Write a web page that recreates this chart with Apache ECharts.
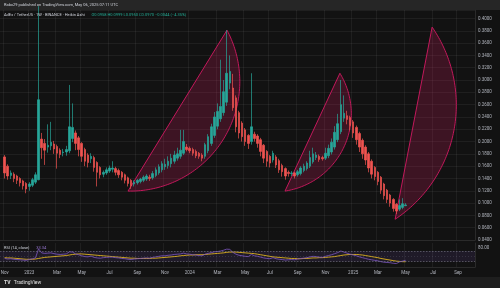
<!DOCTYPE html>
<html><head><meta charset="utf-8">
<script src="https://cdn.jsdelivr.net/npm/echarts/dist/echarts.min.js"></script>
<style>html,body{margin:0;padding:0;background:#121212;}#c{width:500px;height:288px;}</style>
</head><body><div id="c"></div>
<script>
// ---- data (weekly Heikin Ashi candles, index 1 = week of 2022-11-07) ----
const firstWeekUTC = Date.UTC(2022, 9, 31);
const weekCount = 154;
const monthNames = ['Jan','Feb','Mar','Apr','May','Jun','Jul','Aug','Sep','Oct','Nov','Dec'];

const haOpen = [.175,.160,.145,.147,.144,.140,.136,.132,.127,.129,
 .134,.138,.204,.197,.191,.193,.196,.192,.186,.182,
 .183,.185,.205,.214,.206,.197,.187,.178,.172,.174,
 .166,.158,.147,.149,.152,.155,.156,.153,.150,.146,
 .141,.137,.131,.133,.135,.137,.139,.142,.141,.145,
 .149,.154,.159,.161,.164,.168,.173,.176,.181,.191,
 .189,.187,.184,.181,.178,.176,.185,.197,.210,.225,
 .237,.247,.264,.295,.287,.271,.247,.230,.219,.210,
 .200,.212,.209,.203,.194,.184,.176,.170,.175,.169,
 .161,.156,.150,.148,.149,.146,.148,.153,.156,.160,
 .167,.174,.176,.174,.173,.177,.183,.191,.203,.216,
 .238,.242,.239,.232,.223,.213,.202,.191,.180,.168,
 .158,.150,.142,.131,.121,.113,.106,.098,.090,.093,
 .0958];
const haClose = [.149,.144,.149,.140,.137,.133,.128,.123,.131,.138,
 .146,.268,.190,.186,.194,.199,.188,.181,.179,.183,
 .187,.224,.223,.197,.187,.176,.168,.166,.176,.158,
 .150,.146,.150,.154,.157,.157,.150,.146,.142,.137,
 .132,.128,.134,.137,.139,.142,.144,.140,.148,.154,
 .159,.164,.163,.168,.173,.178,.180,.186,.200,.187,
 .185,.181,.177,.176,.173,.195,.208,.224,.240,.249,
 .257,.281,.311,.314,.255,.224,.214,.208,.200,.197,
 .224,.205,.197,.184,.173,.168,.165,.181,.162,.154,
 .151,.144,.148,.149,.144,.151,.157,.160,.165,.174,
 .180,.178,.171,.172,.181,.189,.199,.215,.229,.260,
 .246,.236,.226,.214,.203,.191,.180,.170,.157,.147,
 .143,.135,.121,.112,.106,.100,.091,.087,.096,.099,
 .0970];
const haLow = [.140,.138,.139,.134,.131,.127,.122,.116,.120,.126,
 .131,.137,.172,.162,.182,.186,.180,.156,.173,.176,
 .177,.181,.199,.186,.176,.167,.160,.158,.165,.151,
 .127,.140,.142,.146,.149,.150,.145,.141,.137,.132,
 .127,.123,.127,.130,.132,.134,.136,.136,.138,.142,
 .146,.150,.154,.156,.158,.164,.169,.172,.178,.184,
 .181,.177,.173,.172,.168,.172,.181,.193,.206,.220,
 .232,.242,.258,.285,.250,.215,.205,.200,.193,.188,
 .195,.200,.190,.176,.165,.159,.158,.166,.157,.149,
 .143,.138,.143,.144,.140,.143,.145,.150,.153,.157,
 .164,.170,.167,.169,.170,.173,.179,.187,.199,.212,
 .232,.228,.218,.206,.195,.183,.172,.162,.150,.140,
 .137,.129,.115,.106,.100,.094,.086,.082,.087,.090,
 .0950];
const haHigh = [.178,.163,.153,.150,.146,.142,.138,.134,.134,.141,
 .150,.420,.214,.204,.228,.232,.201,.195,.189,.188,
 .193,.292,.262,.218,.209,.199,.190,.181,.181,.177,
 .168,.160,.153,.158,.161,.168,.159,.156,.152,.148,
 .143,.139,.137,.139,.141,.145,.147,.146,.152,.158,
 .163,.168,.172,.176,.180,.185,.190,.219,.219,.196,
 .192,.190,.187,.183,.181,.198,.212,.229,.248,.262,
 .333,.300,.381,.340,.310,.275,.250,.233,.222,.212,
 .311,.216,.212,.206,.196,.186,.178,.185,.178,.172,
 .164,.158,.153,.152,.151,.154,.160,.164,.168,.185,
 .190,.183,.179,.177,.190,.195,.205,.225,.245,.300,
 .275,.250,.242,.235,.226,.216,.205,.194,.183,.171,
 .160,.152,.144,.133,.123,.115,.108,.100,.106,.108,
 .0999];
const rsi = [42,40,41,39,38,37,36,35,38,41,
 44,78,63,61,62,63,60,58,57,58,
 59,67,66,59,56,52,49,48,51,46,
 44,43,45,46,47,47,45,44,42,41,
 39,38,40,41,42,43,44,43,46,48,
 50,52,52,54,55,57,58,59,62,59,
 58,56,55,53,52,58,61,64,67,68,
 70,73,77,76,65,58,54,52,50,49,
 57,52,50,47,44,42,41,45,41,39,
 38,36,37,38,37,40,42,43,45,48,
 50,49,47,46,50,53,56,60,64,70,
 66,62,58,55,52,48,45,42,39,37,
 35,33,30,28,27,26,24,23,29,32,
 35.04];
const rsiMa = [45,44,44,43,42,41,40,39,39,39,
 40,42,44,46,47,48,49,50,51,52,
 53,55,57,58,59,59,58,57,56,55,
 54,53,52,51,50,49,48,47,46,45,
 44,43,43,42,42,42,42,42,43,43,
 44,45,46,47,48,49,50,52,53,54,
 55,55,56,56,56,57,58,59,60,61,
 62,63,65,66,66,66,65,64,63,62,
 61,60,58,56,54,52,50,48,47,46,
 45,44,43,42,42,41,41,42,42,43,
 44,44,45,45,46,47,48,49,51,53,
 55,56,57,57,57,56,55,53,51,49,
 47,45,42,40,38,36,34,32,31,30,
 29.6];
// arc drawings: [anchorIdx, anchorPrice, startIdx, startPrice, endIdx, endPrice, bulgeIdx, bulgePrice]
const fanArcs = [
  [41, 0.1195, 41.0, 0.1195, 73.1, 0.381, 72.0, 0.2044],
  [92, 0.1195, 91.9, 0.1195, 109.7, 0.311, 111.0, 0.191],
  [128, 0.0737, 127.6, 0.0737, 139.6, 0.386, 146.6, 0.2164]
];
const priceTicks = {min: 0.04, max: 0.4138, step: 0.02};
const lastPriceTag = {text: '0.0976\n5d 16h', pos: 0.0976};
const realPriceTag = {text: '0.0960', pos: 0.0836};
const rsiTag = {text: '35.04', pos: 35.04};
const rsiMaTag = {text: '29.60', pos: 19.4};
const bannerText = 'Rabc29 published on TradingView.com, May 06, 2025 07:11 UTC';
const legendName = 'AdEx / TetherUS · 1W · BINANCE · Heikin Ashi';
const legendValues = 'O0.0958 H0.0999 L0.0950 C0.0970 −0.0044 (−4.35%)';
const rsiLegend = 'RSI (14, close)';
const rsiLegendValue = '33.34';

// ---- build ----
const categories = Array.from({length: weekCount}, (_, k) =>
  new Date(firstWeekUTC + k * 7 * 864e5).toISOString().slice(0, 10));
const isTick = v => (+v.slice(8, 10) <= 7) && (+v.slice(5, 7) % 2 === 1);
const tickFmt = v => { const m = +v.slice(5, 7); return m === 1 ? v.slice(0, 4) : monthNames[m - 1]; };
const candleData = haOpen.map((o, j) => [j + 1, o, haClose[j], haLow[j], haHigh[j]]);
const rsiData = rsi.map((v, j) => [j + 1, v]);
const rsiMaData = rsiMa.map((v, j) => [j + 1, v]);

const UP = '#26a69a', DOWN = '#ef5350';
const gridCol = 'rgba(255,255,255,0.055)';
const labCol = '#b2b5be';
const FONT = 'Roboto';

function circle(a, b, c) {
  const d = 2 * (a[0] * (b[1] - c[1]) + b[0] * (c[1] - a[1]) + c[0] * (a[1] - b[1]));
  const a2 = a[0] * a[0] + a[1] * a[1], b2 = b[0] * b[0] + b[1] * b[1], c2 = c[0] * c[0] + c[1] * c[1];
  const ux = (a2 * (b[1] - c[1]) + b2 * (c[1] - a[1]) + c2 * (a[1] - b[1])) / d;
  const uy = (a2 * (c[0] - b[0]) + b2 * (a[0] - c[0]) + c2 * (b[0] - a[0])) / d;
  return [ux, uy, Math.hypot(a[0] - ux, a[1] - uy)];
}

function renderArc(params, api) {
  const toPx = (x, y) => {
    const i0 = Math.floor(x), f = x - i0;
    const p0 = api.coord([i0, y]), p1 = api.coord([i0 + 1, y]);
    return [p0[0] + (p1[0] - p0[0]) * f, p0[1]];
  };
  const A = toPx(api.value(2), api.value(3));
  const B = toPx(api.value(4), api.value(5));
  const C = toPx(api.value(6), api.value(7));
  const [ux, uy, r] = circle(A, B, C);
  const TAU = Math.PI * 2, norm = t => ((t % TAU) + TAU) % TAU;
  const tA = Math.atan2(A[1] - uy, A[0] - ux);
  const tB = Math.atan2(B[1] - uy, B[0] - ux);
  const tC = Math.atan2(C[1] - uy, C[0] - ux);
  const dB = norm(tB - tA), dC = norm(tC - tA);
  const sweep = dC < dB ? dB : dB - TAU;
  const pts = [];
  const N = 90;
  for (let k = 0; k <= N; k++) {
    const t = tA + sweep * k / N;
    pts.push([ux + r * Math.cos(t), uy + r * Math.sin(t)]);
  }
  return {type: 'polygon', shape: {points: pts},
    style: {fill: 'rgba(216,27,96,0.22)', stroke: '#c2185b', lineWidth: 1}};
}

const tagLabel = (text, bg, fg) => ({show: true, position: 'end', distance: 2, formatter: text,
  backgroundColor: bg, color: fg, fontSize: 4.5, fontFamily: FONT, padding: [1, 2], lineHeight: 5});

const chart = echarts.init(document.getElementById('c'), null, {renderer: 'canvas'});
chart.setOption({
  backgroundColor: '#121212',
  animation: false,
  textStyle: {fontFamily: FONT},
  graphic: [
    {type: 'rect', shape: {x: 0, y: 0, width: 500, height: 10}, style: {fill: '#262626'}, silent: true},
    {type: 'text', x: 4, y: 5, silent: true,
      style: {text: bannerText, fill: '#d1d4dc', fontSize: 4, fontFamily: FONT, verticalAlign: 'middle'}},
    {type: 'rect', shape: {x: 0, y: 277, width: 500, height: 11}, style: {fill: '#1e1e1e'}, silent: true},
    {type: 'text', x: 4, y: 282.5, silent: true,
      style: {text: '{l|TV} {t|TradingView}', verticalAlign: 'middle', rich: {
        l: {fill: '#e0e0e0', fontSize: 5, fontWeight: 'bold', fontFamily: FONT},
        t: {fill: '#e0e0e0', fontSize: 5, fontFamily: FONT}}}},
    {type: 'text', x: 4, y: 14.5, silent: true, z: 10,
      style: {text: '{n|' + legendName + '}  {v|' + legendValues + '}', verticalAlign: 'middle', rich: {
        n: {fill: '#d1d4dc', fontSize: 4, fontFamily: FONT},
        v: {fill: '#22ab94', fontSize: 4, fontFamily: FONT}}}},
    {type: 'text', x: 4, y: 248, silent: true, z: 10,
      style: {text: '{n|' + rsiLegend + '}  {v|' + rsiLegendValue + '}', verticalAlign: 'middle', rich: {
        n: {fill: '#d1d4dc', fontSize: 4, fontFamily: FONT},
        v: {fill: '#9575cd', fontSize: 4, fontFamily: FONT}}}}
  ],
  grid: [
    {left: 0, top: 10, width: 475, height: 230, outerBoundsMode: 'none'},
    {left: 0, top: 243, width: 475, height: 24, outerBoundsMode: 'none'}
  ],
  xAxis: [
    {type: 'category', gridIndex: 0, data: categories, boundaryGap: true,
      axisLine: {show: true, lineStyle: {color: '#2a2a2a'}}, axisTick: {show: false}, axisLabel: {show: false},
      splitLine: {show: true, interval: (i, v) => isTick(v), lineStyle: {color: gridCol, width: 1}}},
    {type: 'category', gridIndex: 1, data: categories, boundaryGap: true,
      axisLine: {show: true, lineStyle: {color: '#2a2a2a'}}, axisTick: {show: false},
      axisLabel: {show: true, interval: (i, v) => isTick(v), formatter: tickFmt, color: labCol,
        fontSize: 4.5, fontFamily: FONT, margin: 3, hideOverlap: false},
      splitLine: {show: true, interval: (i, v) => isTick(v), lineStyle: {color: gridCol, width: 1}}}
  ],
  yAxis: [
    {type: 'value', gridIndex: 0, position: 'right', min: priceTicks.min, max: priceTicks.max, interval: priceTicks.step,
      axisLine: {show: true, lineStyle: {color: '#2a2a2a'}}, axisTick: {show: false},
      axisLabel: {color: labCol, fontSize: 4.5, fontFamily: FONT, margin: 3,
        formatter: v => Math.abs(v / priceTicks.step - Math.round(v / priceTicks.step)) < 1e-6 ? v.toFixed(4) : ''},
      splitLine: {show: true, lineStyle: {color: gridCol, width: 1}}},
    {type: 'value', gridIndex: 1, position: 'right', min: 10, max: 100, interval: 10,
      axisLine: {show: true, lineStyle: {color: '#2a2a2a'}}, axisTick: {show: false},
      axisLabel: {color: labCol, fontSize: 4.5, fontFamily: FONT, margin: 3, formatter: v => v === 80 ? '80.00' : ''},
      splitLine: {show: false}}
  ],
  series: [
    {type: 'custom', name: 'arcs', xAxisIndex: 0, yAxisIndex: 0, data: fanArcs, renderItem: renderArc,
      clip: true, silent: true, z: 1},
    {type: 'candlestick', name: 'ADXUSDT', xAxisIndex: 0, yAxisIndex: 0, data: candleData,
      encode: {x: 0, y: [1, 2, 3, 4]}, barWidth: 2, clip: true, z: 3,
      itemStyle: {color: UP, color0: DOWN, borderColor: UP, borderColor0: DOWN, borderWidth: 0.7},
      markLine: {silent: true, symbol: 'none', z: 20, animation: false,
        lineStyle: {opacity: 0},
        data: [
          {yAxis: lastPriceTag.pos, label: tagLabel(lastPriceTag.text, '#089981', '#ffffff')},
          {yAxis: realPriceTag.pos, label: tagLabel(realPriceTag.text, '#f23645', '#ffffff')}
        ]}},
    {type: 'line', name: 'RSI', xAxisIndex: 1, yAxisIndex: 1, data: rsiData, encode: {x: 0, y: 1},
      symbol: 'none', lineStyle: {color: '#7e57c2', width: 0.8}, z: 4,
      markArea: {silent: true, itemStyle: {color: 'rgba(126,87,194,0.13)'}, data: [[{yAxis: 70}, {yAxis: 30}]]},
      markLine: {silent: true, symbol: 'none', z: 20, animation: false,
        data: [
          {yAxis: 70, lineStyle: {color: '#787b86', type: [1.5, 1.5], width: 0.6}, label: {show: false}},
          {yAxis: 50, lineStyle: {color: 'rgba(120,123,134,0.5)', type: [1, 2], width: 0.5}, label: {show: false}},
          {yAxis: 30, lineStyle: {color: '#787b86', type: [1.5, 1.5], width: 0.6}, label: {show: false}},
          {yAxis: rsiTag.pos, lineStyle: {opacity: 0}, label: tagLabel(rsiTag.text, '#7e57c2', '#ffffff')},
          {yAxis: rsiMaTag.pos, lineStyle: {opacity: 0}, label: tagLabel(rsiMaTag.text, '#f7c61d', '#1e1e1e')}
        ]}},
    {type: 'line', name: 'RSI MA', xAxisIndex: 1, yAxisIndex: 1, data: rsiMaData, encode: {x: 0, y: 1},
      symbol: 'none', lineStyle: {color: '#f7c61d', width: 0.8}, z: 3}
  ]
});
</script></body></html>
